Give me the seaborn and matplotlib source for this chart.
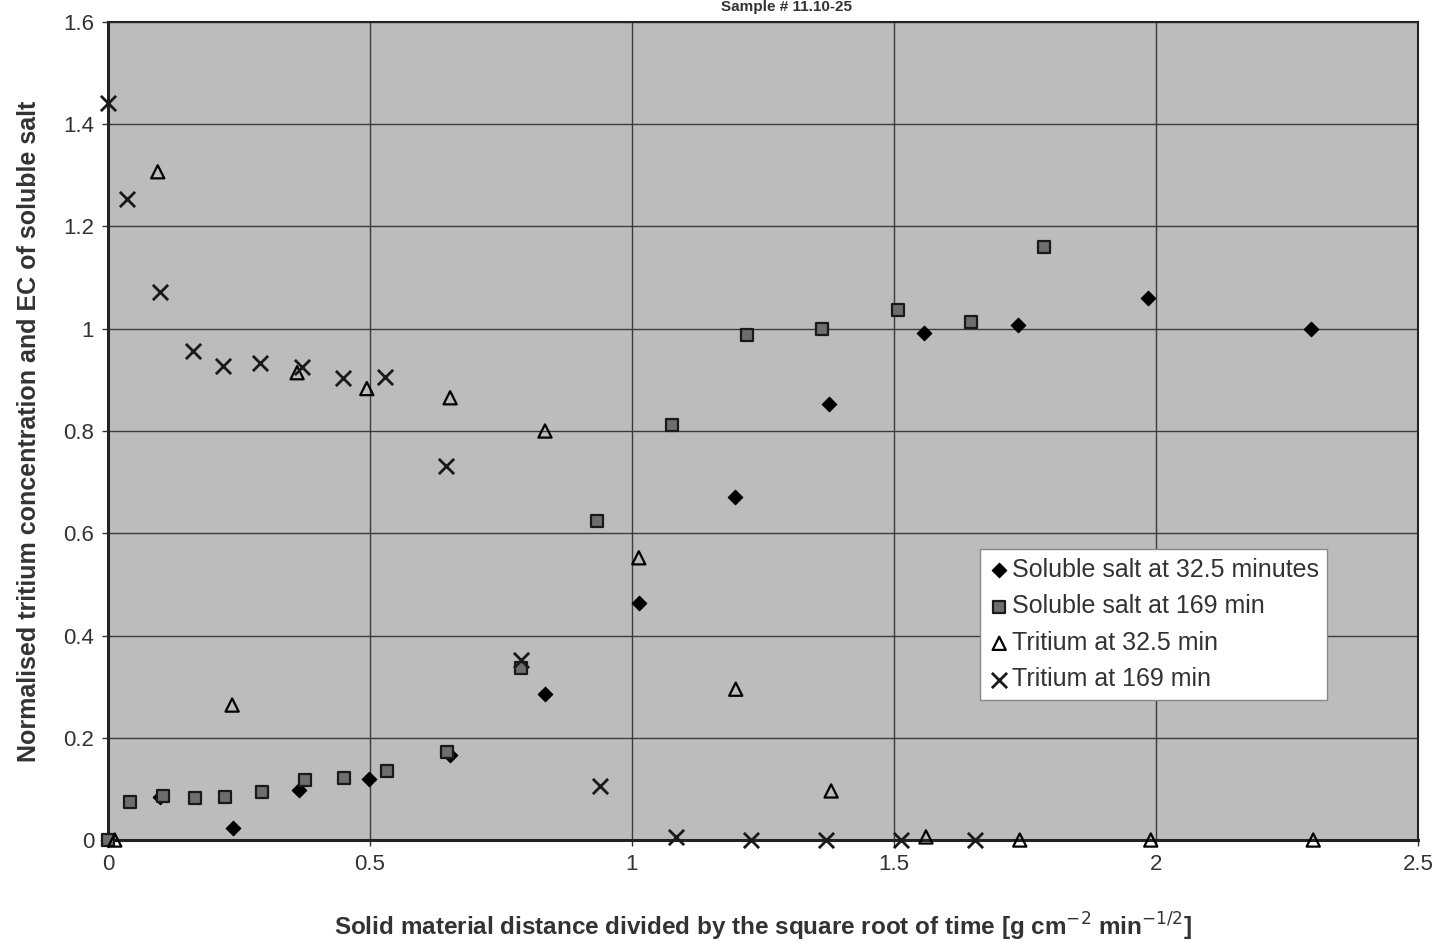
"""
Normalised tritium concentration and EC of soluble salt against x / sqrt(t).
"""
import matplotlib
matplotlib.use("Agg")
import matplotlib.pyplot as plt
import pandas as pd
import seaborn as sns
from matplotlib.ticker import FuncFormatter

# soluble salt at 32.5 minutes (diamonds)
salt_325_x = [0.0, 0.10, 0.239, 0.365, 0.498, 0.653, 0.834, 1.013, 1.197, 1.376, 1.557, 1.737, 1.985, 2.296]
salt_325_y = [0.0, 0.085, 0.023, 0.098, 0.119, 0.166, 0.286, 0.464, 0.671, 0.853, 0.992, 1.008, 1.061, 1.0]

# soluble salt at 169 min (squares)
salt_169_x = [0.0, 0.042, 0.105, 0.166, 0.223, 0.294, 0.376, 0.450, 0.532, 0.647, 0.788, 0.933, 1.076,
              1.219, 1.363, 1.508, 1.647, 1.786]
salt_169_y = [0.0, 0.074, 0.086, 0.082, 0.084, 0.094, 0.117, 0.121, 0.135, 0.172, 0.337, 0.624, 0.812,
              0.988, 1.0, 1.037, 1.014, 1.160]

# tritium at 32.5 min (hollow triangles)
trit_325_x = [0.013, 0.095, 0.237, 0.361, 0.494, 0.653, 0.834, 1.013, 1.198, 1.380, 1.561, 1.740, 1.990, 2.300]
trit_325_y = [0.0, 1.307, 0.264, 0.914, 0.883, 0.865, 0.800, 0.552, 0.295, 0.096, 0.006, 0.0, 0.0, 0.0]

# tritium at 169 min (crosses)
trit_169_x = [0.0, 0.036, 0.099, 0.162, 0.219, 0.290, 0.370, 0.448, 0.529, 0.645, 0.788, 0.939, 1.084,
              1.227, 1.370, 1.513, 1.655]
trit_169_y = [1.442, 1.254, 1.072, 0.957, 0.928, 0.933, 0.926, 0.904, 0.906, 0.732, 0.352, 0.106, 0.006,
              0.0, 0.0, 0.0, 0.0]

x_ticks = [0, 0.5, 1, 1.5, 2, 2.5]
y_ticks = [0, 0.2, 0.4, 0.6, 0.8, 1.0, 1.2, 1.4, 1.6]

sns.set_theme(style="white")
plt.rcParams["font.family"] = ["Liberation Sans", "DejaVu Sans"]

fig = plt.figure(figsize=(14.43, 9.43), dpi=100)
ax = fig.add_axes([0.0748, 0.1092, 0.9079, 0.8675])
ax.set_facecolor("#bcbcbc")
ax.set_axisbelow(True)

sns.scatterplot(x=salt_325_x, y=salt_325_y, ax=ax, marker="D", s=55, color="black",
                edgecolor="black", linewidth=0.8, label="Soluble salt at 32.5 minutes",
                zorder=3, clip_on=False)
sns.scatterplot(x=salt_169_x, y=salt_169_y, ax=ax, marker="s", s=80, color="#6e6e6e",
                edgecolor="#1a1a1a", linewidth=1.6, label="Soluble salt at 169 min",
                zorder=3, clip_on=False)
sns.scatterplot(x=trit_325_x, y=trit_325_y, ax=ax, marker="^", s=90, facecolor="none",
                edgecolor="black", linewidth=1.6, label="Tritium at 32.5 min",
                zorder=3, clip_on=False)
sns.scatterplot(x=trit_169_x, y=trit_169_y, ax=ax, marker="x", s=120, color="#1a1a1a",
                linewidth=2.0, label="Tritium at 169 min", zorder=3, clip_on=False)

ax.set_xlim(0, 2.5)
ax.set_ylim(0, 1.6)
ax.set_xticks(x_ticks)
ax.set_yticks(y_ticks)
fmt = FuncFormatter(lambda v, p: f"{v:g}")
ax.xaxis.set_major_formatter(fmt)
ax.yaxis.set_major_formatter(fmt)
ax.grid(True, color="#3c3c3c", linewidth=1.0)
ax.tick_params(axis="both", labelsize=16, colors="#333333", length=4, direction="out",
               bottom=True, left=True, width=1, pad=6)
for lbl in ax.get_xticklabels() + ax.get_yticklabels():
    lbl.set_color("#333333")
for side in ["left", "bottom", "top", "right"]:
    ax.spines[side].set_color("#222222")
    ax.spines[side].set_linewidth(1.5)
ax.spines["left"].set_linewidth(2.2)
ax.spines["bottom"].set_linewidth(2.2)

ax.set_xlabel("Solid material distance divided by the square root of time [g cm$^{-2}$ min$^{-1/2}$]",
              fontsize=17.5, fontweight="bold", color="#333333", labelpad=26)
ax.set_ylabel("Normalised tritium concentration and EC of soluble salt",
              fontsize=18, fontweight="bold", color="#333333", labelpad=16)

# title sits right at the top edge of the scan
fig.text(0.545, 0.9995, "Sample # 11.10-25", ha="center", va="top", fontsize=11,
         fontweight="bold", color="#333333")

leg = ax.legend(loc="lower left", bbox_to_anchor=(0.666, 0.171), fontsize=18, frameon=True,
                fancybox=False, handletextpad=0.1, handlelength=0.8, borderpad=0.35,
                labelspacing=0.5, borderaxespad=0)
leg.get_frame().set_facecolor("white")
leg.get_frame().set_edgecolor("#888888")
leg.get_frame().set_alpha(1)
for t in leg.get_texts():
    t.set_color("#333333")

fig.savefig("out.png", dpi=100)
